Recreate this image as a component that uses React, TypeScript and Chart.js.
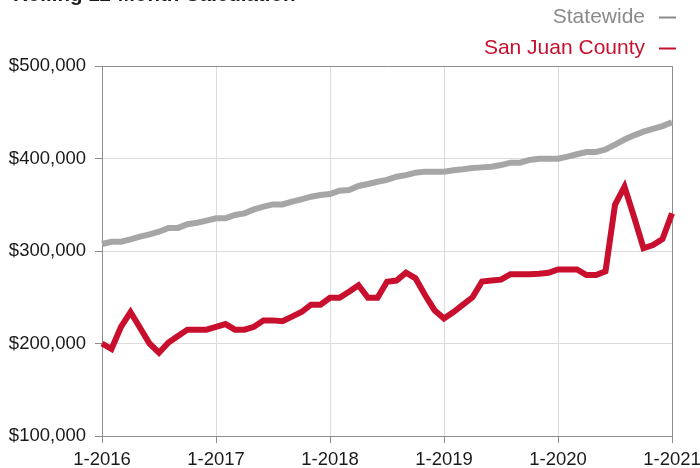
import React, { useEffect, useRef } from "react";
import { Chart, registerables } from "chart.js";

Chart.register(...registerables);

const title = "Rolling 12-Month Calculation";
const years = [2016, 2017, 2018, 2019, 2020, 2021];
const monthLabels: string[] = [];
years.forEach((y) => {
  for (let m = 1; m <= 12; m++) {
    if (y === 2021 && m > 1) break;
    monthLabels.push(`${m}-${y}`);
  }
});

const statewide = [
  307.6, 310, 310, 312.6, 315.5, 318, 320.9, 325, 325, 329, 330.5, 332.8,
  335.3, 335.3, 338.9, 340.7, 345, 347.9, 350.4, 350.4, 353.3, 355.9, 358.7, 360.5,
  361.6, 365.2, 366, 370.3, 372.4, 374.9, 376.8, 380.3, 382, 384.7, 385.8, 385.8,
  385.8, 387.3, 388.3, 389.7, 390.4, 391.1, 392.9, 395.5, 395.5, 398.4, 399.8, 399.8,
  399.8, 402, 404.6, 407, 407, 409.7, 415, 420.5, 425, 429, 432, 435,
  439.2,
].map((v) => v * 1000);

const sanJuan = [
  200, 194, 218, 234, 217, 200, 190, 201, 208, 215, 215, 215,
  218, 221, 215, 215, 218, 225, 225, 224, 229, 234, 242, 242,
  249.5, 249.5, 256, 263, 249.5, 249.5, 266.8, 268, 276.5, 270.5, 252.4, 236,
  227, 234, 242, 250, 267, 268, 269, 275, 275, 275, 275.5, 276.5,
  280, 280, 280, 274, 274, 278, 350, 369.5, 337, 303, 306.5, 313,
  340.7,
].map((v) => v * 1000);

const seriesNames = ["Statewide", "San Juan County"];
const seriesColors = ["#a6a6a6", "#c8102e"];
const legendTextColors = ["#8a8a8a", "#c8102e"];
const yTicks = [100000, 200000, 300000, 400000, 500000];

const FONT = '"Liberation Sans", Arial, Helvetica, sans-serif';

const decorPlugin = {
  id: "decor",
  beforeDatasetsDraw(chart: any) {
    const { ctx, chartArea } = chart;
    ctx.save();
    ctx.strokeStyle = "#8c8c8c";
    ctx.lineWidth = 1;
    ctx.beginPath();
    ctx.moveTo(chartArea.left, chartArea.top + 0.5);
    ctx.lineTo(chartArea.right + 0.5, chartArea.top + 0.5);
    ctx.lineTo(chartArea.right + 0.5, chartArea.bottom);
    ctx.stroke();
    ctx.restore();
  },
  afterDraw(chart: any) {
    const { ctx } = chart;
    ctx.save();
    ctx.fillStyle = "#1a1a1a";
    ctx.font = `bold 20.5px ${FONT}`;
    ctx.textAlign = "left";
    ctx.textBaseline = "alphabetic";
    ctx.fillText(title, 13, 1);

    ctx.font = `21px ${FONT}`;
    ctx.textAlign = "right";
    ctx.textBaseline = "middle";
    const ys = [17, 48];
    seriesNames.forEach((name, i) => {
      ctx.fillStyle = legendTextColors[i];
      ctx.fillText(name, 645, ys[i]);
      ctx.strokeStyle = legendTextColors[i];
      ctx.lineWidth = 2;
      ctx.beginPath();
      ctx.moveTo(659, ys[i] + 0.5);
      ctx.lineTo(676, ys[i] + 0.5);
      ctx.stroke();
    });
    ctx.restore();
  },
};

export default function App() {
  const ref = useRef<HTMLCanvasElement>(null);
  useEffect(() => {
    if (!ref.current) return;
    const chart = new Chart(ref.current, {
      type: "line",
      data: {
        labels: monthLabels,
        datasets: [
          {
            label: seriesNames[0],
            data: statewide,
            borderColor: seriesColors[0],
            backgroundColor: seriesColors[0],
            borderWidth: 6,
            pointRadius: 0,
            tension: 0,
          },
          {
            label: seriesNames[1],
            data: sanJuan,
            borderColor: seriesColors[1],
            backgroundColor: seriesColors[1],
            borderWidth: 6,
            pointRadius: 0,
            tension: 0,
          },
        ],
      },
      options: {
        responsive: false,
        animation: false,
        layout: { padding: { top: 66, right: 28, left: 0, bottom: 0 } },
        plugins: {
          legend: { display: false },
          tooltip: { enabled: false },
          title: { display: false },
        },
        scales: {
          x: {
            type: "category",
            offset: false,
            afterFit: (s: any) => {
              s.height = 32;
              s.paddingLeft = 0;
              s.paddingRight = 0;
            },
            grid: {
              color: (c: any) => (c.index % 12 === 0 ? "#dcdcdc" : "rgba(0,0,0,0)"),
              tickColor: (c: any) => (c.index % 12 === 0 ? "#8c8c8c" : "rgba(0,0,0,0)"),
              tickLength: 7,
              lineWidth: 1,
            },
            border: { display: true, color: "#8c8c8c" },
            ticks: {
              autoSkip: false,
              maxRotation: 0,
              minRotation: 0,
              padding: 6,
              color: "#1a1a1a",
              font: { family: FONT, size: 18.5 },
              callback: (_v: any, i: number) => (i % 12 === 0 ? monthLabels[i] : ""),
            },
          },
          y: {
            min: yTicks[0],
            max: yTicks[yTicks.length - 1],
            afterFit: (s: any) => {
              s.width = 102;
            },
            afterBuildTicks: (s: any) => {
              s.ticks = yTicks.map((v) => ({ value: v }));
            },
            grid: {
              color: "#dcdcdc",
              tickColor: "#8c8c8c",
              tickLength: 7,
            },
            border: { display: true, color: "#8c8c8c" },
            ticks: {
              padding: 9,
              color: "#1a1a1a",
              font: { family: FONT, size: 18.5 },
              callback: (v: any) => "$" + Number(v).toLocaleString("en-US"),
            },
          },
        },
      },
      plugins: [decorPlugin],
    });
    return () => chart.destroy();
  }, []);
  return (
    <div style={{ position: "fixed", left: 0, top: 0, width: 700, height: 468, background: "#fff" }}>
      <canvas ref={ref} width={700} height={468} style={{ display: "block" }} />
    </div>
  );
}
